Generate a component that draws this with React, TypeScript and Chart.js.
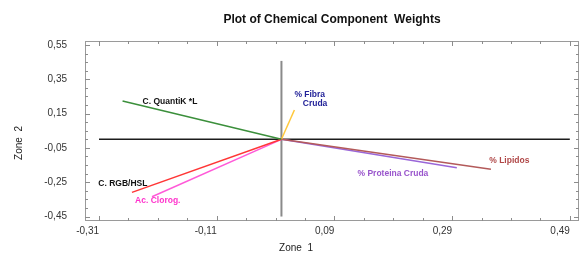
import React, { useEffect, useRef } from 'react';
import { Chart, registerables } from 'chart.js';
Chart.register(...registerables);

// ---- data ----
const variables = ['C. QuantiK *L', 'C. RGB/HSL', 'Ac. Clorog.', '% Fibra Cruda', '% Lipidos', '% Proteina Cruda'];
const zone1 = [-0.270, -0.254, -0.220, 0.022, 0.356, 0.298];
const zone2 = [0.223, -0.309, -0.335, 0.171, -0.175, -0.166];
const labelLines = [['C. QuantiK *L'], ['C. RGB/HSL'], ['Ac. Clorog.'], ['% Fibra', 'Cruda'], ['% Lipidos'], ['% Proteina Cruda']];
const xTicks = [-0.31, -0.11, 0.09, 0.29, 0.49];
const yTicks = [0.55, 0.35, 0.15, -0.05, -0.25, -0.45];
const xRange = [-0.3338, 0.5056];
const yRange = [-0.476, 0.573];
const vLine = [-0.45, 0.457];
const titleText = 'Plot of Chemical Component  Weights';
const xTitle = 'Zone  1';
const yTitle = 'Zone  2';

// ---- styles ----
const lineColors = ['#3b8f3b', '#ff3636', '#ff5ad8', '#ffc83c', '#b35a5a', '#9a66d8'];
const labelColors = ['#111111', '#111111', '#ff33cc', '#232399', '#b04848', '#9955cc'];
// [align, [dx, dy] per line] relative to vector tip, in px
const labelAlign: CanvasTextAlign[] = ['left', 'right', 'center', 'left', 'left', 'center'];
const labelOffsets = [[[20, 1]], [[15.5, -9]], [[5.8, 3.5]], [[0, -15.7], [8.4, -6.7]], [[-1.7, -8.3]], [[-63.9, 6.3]]];
const FONT = '"Liberation Sans", Arial, sans-serif';

const fmt = (v: number) => v.toFixed(2).replace('.', ',');

const decorPlugin = {
  id: 'decor',
  beforeDatasetsDraw(chart: any) {
    const { ctx, scales: { x, y } } = chart;
    ctx.save();
    const y0 = y.getPixelForValue(0);
    ctx.strokeStyle = '#1c1c1c';
    ctx.lineWidth = 1.5;
    ctx.beginPath();
    ctx.moveTo(x.getPixelForValue(xTicks[0]), y0);
    ctx.lineTo(x.getPixelForValue(xTicks[xTicks.length - 1]), y0);
    ctx.stroke();
    const x0 = x.getPixelForValue(0);
    ctx.strokeStyle = '#8a8a8a';
    ctx.lineWidth = 2;
    ctx.beginPath();
    ctx.moveTo(x0, y.getPixelForValue(vLine[0]));
    ctx.lineTo(x0, y.getPixelForValue(vLine[1]));
    ctx.stroke();
    ctx.restore();
  },
  afterDatasetsDraw(chart: any) {
    const { ctx, scales: { x, y } } = chart;
    ctx.save();
    ctx.font = 'bold 8.5px ' + FONT;
    ctx.textBaseline = 'middle';
    variables.forEach((_, i) => {
      const px = x.getPixelForValue(zone1[i]);
      const py = y.getPixelForValue(zone2[i]);
      ctx.fillStyle = labelColors[i];
      ctx.textAlign = labelAlign[i];
      labelLines[i].forEach((t, j) => {
        const [dx, dy] = labelOffsets[i][j];
        ctx.fillText(t, px + dx, py + dy);
      });
    });
    ctx.restore();
  },
  afterDraw(chart: any) {
    const { ctx, chartArea: a, scales: { x, y } } = chart;
    ctx.save();
    ctx.strokeStyle = '#9a9a9a';
    ctx.lineWidth = 1;
    ctx.strokeRect(a.left + 0.5, a.top + 0.5, a.right - a.left - 1, a.bottom - a.top - 1);
    ctx.strokeStyle = '#8c8c8c';
    ctx.beginPath();
    // x ticks
    for (let n = -2; n <= 20; n++) {
      const v = xTicks[0] + n * 0.05;
      const px = Math.round(x.getPixelForValue(v)) + 0.5;
      if (px < a.left + 2 || px > a.right - 2) continue;
      const len = n % 4 === 0 ? 5 : 3;
      ctx.moveTo(px, a.bottom); ctx.lineTo(px, a.bottom - len);
      ctx.moveTo(px, a.top); ctx.lineTo(px, a.top + len);
    }
    for (let n = -2; n <= 22; n++) {
      const v = yTicks[yTicks.length - 1] + n * 0.05;
      const py = Math.round(y.getPixelForValue(v)) + 0.5;
      if (py < a.top + 2 || py > a.bottom - 2) continue;
      const len = n % 4 === 0 ? 5 : 3;
      ctx.moveTo(a.left, py); ctx.lineTo(a.left + len, py);
      ctx.moveTo(a.right, py); ctx.lineTo(a.right - len, py);
    }
    ctx.stroke();
    // axis titles
    ctx.fillStyle = '#222';
    ctx.font = '10px ' + FONT;
    ctx.textAlign = 'center';
    ctx.textBaseline = 'middle';
    ctx.fillText(xTitle, 296, 248);
    ctx.translate(19, 143);
    ctx.rotate(-Math.PI / 2);
    ctx.fillText(yTitle, 0, 0);
    ctx.restore();
  },
};

export default function App() {
  const ref = useRef<HTMLCanvasElement>(null);
  useEffect(() => {
    Chart.defaults.font.family = FONT;
    const chart = new Chart(ref.current!, {
      type: 'scatter',
      data: {
        datasets: variables.map((name, i) => ({
          label: name,
          data: [{ x: 0, y: 0 }, { x: zone1[i], y: zone2[i] }],
          showLine: true,
          borderColor: lineColors[i],
          backgroundColor: lineColors[i],
          borderWidth: 1.5,
          pointRadius: 0,
        })),
      },
      options: {
        responsive: false,
        devicePixelRatio: 1,
        animation: false,
        events: [],
        layout: { padding: 0 },
        plugins: {
          legend: { display: false },
          tooltip: { enabled: false },
          title: {
            display: true,
            text: titleText,
            fullSize: false,
            color: '#111',
            font: { size: 12, weight: 'bold', family: FONT },
            padding: { top: 12, bottom: 14.6 },
          },
        },
        scales: {
          x: {
            type: 'linear',
            min: xRange[0],
            max: xRange[1],
            grid: { display: false, drawTicks: false },
            border: { display: false },
            afterBuildTicks: (s: any) => { s.ticks = xTicks.map((v) => ({ value: v })); },
            afterFit: (s: any) => { s.height = 35; },
            ticks: {
              align: 'end',
              padding: 4,
              color: '#333',
              font: { size: 10, family: FONT },
              callback: (v: any) => fmt(Number(v)),
              maxRotation: 0,
              autoSkip: false,
            },
          },
          y: {
            type: 'linear',
            min: yRange[0],
            max: yRange[1],
            grid: { display: false, drawTicks: false },
            border: { display: false },
            afterBuildTicks: (s: any) => { s.ticks = yTicks.map((v) => ({ value: v })); },
            afterFit: (s: any) => { s.width = 85; },
            ticks: {
              padding: 18,
              color: '#333',
              font: { size: 10, family: FONT },
              callback: (v: any) => fmt(Number(v)),
              autoSkip: false,
            },
          },
        },
      },
      plugins: [decorPlugin],
    } as any);
    return () => chart.destroy();
  }, []);
  return (
    <div style={{ position: 'absolute', left: 0, top: 0, width: 579, height: 256, background: '#fff' }}>
      <canvas ref={ref} width={579} height={256} style={{ display: 'block', width: 579, height: 256 }} />
    </div>
  );
}
